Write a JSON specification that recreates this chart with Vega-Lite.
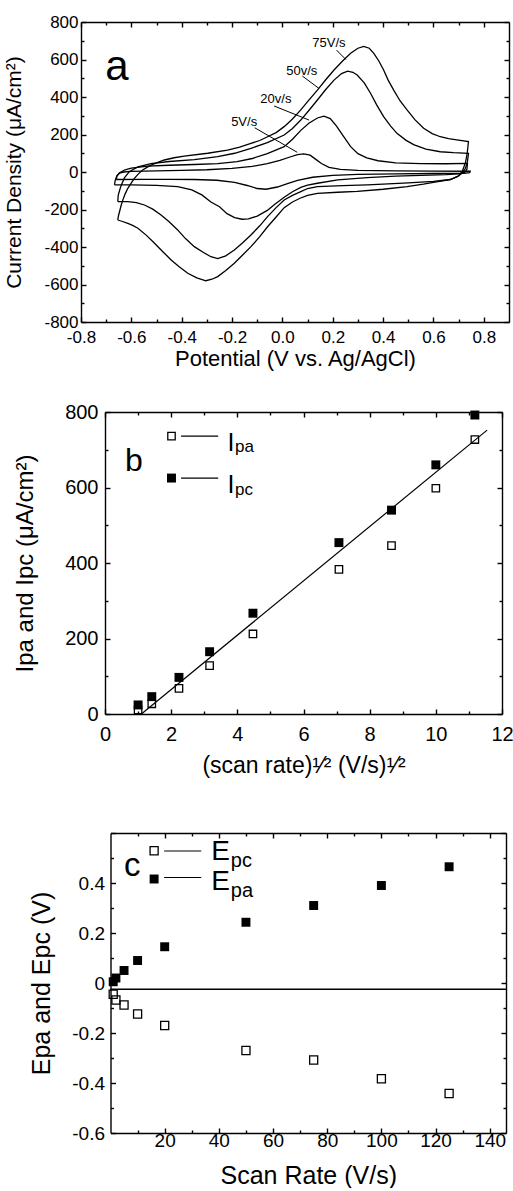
{
  "$schema": "https://vega.github.io/schema/vega-lite/v6.json",
  "padding": {"left": 3, "top": 13, "right": 0, "bottom": 0},
  "spacing": 33,
  "config": {
    "font": "Liberation Sans",
    "view": {"stroke": null},
    "axis": {"domainColor": "black", "domainWidth": 1.4, "tickColor": "black", "tickWidth": 1.4, "labelColor": "black", "titleColor": "black", "grid": false, "labelFont": "Liberation Sans", "titleFont": "Liberation Sans", "titleFontWeight": "normal", "labelOverlap": false, "labelFlush": false}
  },
  "datasets": {
    "cv": [
      {"r":"5","V":-0.660,"I":-40},{"r":"5","V":-0.657,"I":-20},{"r":"5","V":-0.648,"I":-6},{"r":"5","V":-0.630,"I":0},{"r":"5","V":-0.600,"I":3},{"r":"5","V":-0.500,"I":6},{"r":"5","V":-0.400,"I":9},{"r":"5","V":-0.300,"I":12},{"r":"5","V":-0.200,"I":19},{"r":"5","V":-0.120,"I":30},{"r":"5","V":-0.060,"I":45},{"r":"5","V":-0.010,"I":62},{"r":"5","V":0.030,"I":80},{"r":"5","V":0.060,"I":93},{"r":"5","V":0.085,"I":97},{"r":"5","V":0.110,"I":90},{"r":"5","V":0.130,"I":70},{"r":"5","V":0.155,"I":45},{"r":"5","V":0.185,"I":25},{"r":"5","V":0.230,"I":14},{"r":"5","V":0.300,"I":9},{"r":"5","V":0.450,"I":6},{"r":"5","V":0.600,"I":5},{"r":"5","V":0.746,"I":4},
      {"r":"5","V":0.744,"I":-4},{"r":"5","V":0.720,"I":-7},{"r":"5","V":0.600,"I":-8},{"r":"5","V":0.450,"I":-10},{"r":"5","V":0.300,"I":-13},{"r":"5","V":0.200,"I":-18},{"r":"5","V":0.120,"I":-28},{"r":"5","V":0.060,"I":-45},{"r":"5","V":0.020,"I":-62},{"r":"5","V":-0.020,"I":-80},{"r":"5","V":-0.065,"I":-92},{"r":"5","V":-0.100,"I":-88},{"r":"5","V":-0.140,"I":-72},{"r":"5","V":-0.190,"I":-55},{"r":"5","V":-0.260,"I":-44},{"r":"5","V":-0.350,"I":-40},{"r":"5","V":-0.450,"I":-39},{"r":"5","V":-0.550,"I":-39},{"r":"5","V":-0.660,"I":-40},

      {"r":"20","V":-0.667,"I":-69},{"r":"20","V":-0.664,"I":-45},{"r":"20","V":-0.658,"I":-22},{"r":"20","V":-0.645,"I":-3},{"r":"20","V":-0.625,"I":12},{"r":"20","V":-0.600,"I":21},{"r":"20","V":-0.535,"I":31},{"r":"20","V":-0.450,"I":36},{"r":"20","V":-0.350,"I":40},{"r":"20","V":-0.257,"I":45},{"r":"20","V":-0.180,"I":55},{"r":"20","V":-0.120,"I":72},{"r":"20","V":-0.060,"I":98},{"r":"20","V":0.007,"I":135},{"r":"20","V":0.040,"I":175},{"r":"20","V":0.073,"I":222},{"r":"20","V":0.105,"I":260},{"r":"20","V":0.139,"I":288},{"r":"20","V":0.165,"I":298},{"r":"20","V":0.190,"I":285},{"r":"20","V":0.215,"I":245},{"r":"20","V":0.240,"I":195},{"r":"20","V":0.271,"I":135},{"r":"20","V":0.300,"I":98},{"r":"20","V":0.335,"I":75},{"r":"20","V":0.380,"I":60},{"r":"20","V":0.450,"I":49},{"r":"20","V":0.550,"I":45},{"r":"20","V":0.650,"I":44},{"r":"20","V":0.735,"I":46},
      {"r":"20","V":0.733,"I":15},{"r":"20","V":0.725,"I":-2},{"r":"20","V":0.700,"I":-10},{"r":"20","V":0.650,"I":-14},{"r":"20","V":0.550,"I":-18},{"r":"20","V":0.450,"I":-22},{"r":"20","V":0.337,"I":-30},{"r":"20","V":0.220,"I":-42},{"r":"20","V":0.139,"I":-60},{"r":"20","V":0.100,"I":-70},{"r":"20","V":0.073,"I":-82},{"r":"20","V":0.040,"I":-105},{"r":"20","V":0.007,"I":-135},{"r":"20","V":-0.030,"I":-172},{"r":"20","V":-0.060,"I":-205},{"r":"20","V":-0.100,"I":-235},{"r":"20","V":-0.135,"I":-250},{"r":"20","V":-0.160,"I":-252},{"r":"20","V":-0.190,"I":-243},{"r":"20","V":-0.220,"I":-222},{"r":"20","V":-0.250,"I":-185},{"r":"20","V":-0.284,"I":-160},{"r":"20","V":-0.320,"I":-122},{"r":"20","V":-0.360,"I":-95},{"r":"20","V":-0.416,"I":-78},{"r":"20","V":-0.500,"I":-71},{"r":"20","V":-0.600,"I":-69},{"r":"20","V":-0.667,"I":-69},

      {"r":"50","V":-0.654,"I":-158},{"r":"50","V":-0.652,"I":-123},{"r":"50","V":-0.646,"I":-95},{"r":"50","V":-0.640,"I":-70},{"r":"50","V":-0.627,"I":-30},{"r":"50","V":-0.607,"I":3},{"r":"50","V":-0.574,"I":27},{"r":"50","V":-0.522,"I":45},{"r":"50","V":-0.450,"I":56},{"r":"50","V":-0.350,"I":66},{"r":"50","V":-0.257,"I":82},{"r":"50","V":-0.190,"I":100},{"r":"50","V":-0.125,"I":126},{"r":"50","V":-0.060,"I":157},{"r":"50","V":0.007,"I":197},{"r":"50","V":0.040,"I":232},{"r":"50","V":0.073,"I":277},{"r":"50","V":0.105,"I":328},{"r":"50","V":0.139,"I":384},{"r":"50","V":0.172,"I":440},{"r":"50","V":0.205,"I":490},{"r":"50","V":0.235,"I":525},{"r":"50","V":0.259,"I":538},{"r":"50","V":0.280,"I":532},{"r":"50","V":0.297,"I":517},{"r":"50","V":0.325,"I":475},{"r":"50","V":0.350,"I":420},{"r":"50","V":0.375,"I":357},{"r":"50","V":0.402,"I":295},{"r":"50","V":0.430,"I":245},{"r":"50","V":0.455,"I":206},{"r":"50","V":0.490,"I":170},{"r":"50","V":0.521,"I":146},{"r":"50","V":0.570,"I":122},{"r":"50","V":0.627,"I":108},{"r":"50","V":0.680,"I":103},{"r":"50","V":0.739,"I":100},
      {"r":"50","V":0.735,"I":55},{"r":"50","V":0.727,"I":20},{"r":"50","V":0.715,"I":-5},{"r":"50","V":0.695,"I":-25},{"r":"50","V":0.667,"I":-40},{"r":"50","V":0.600,"I":-50},{"r":"50","V":0.500,"I":-58},{"r":"50","V":0.400,"I":-65},{"r":"50","V":0.337,"I":-69},{"r":"50","V":0.240,"I":-73},{"r":"50","V":0.139,"I":-78},{"r":"50","V":0.100,"I":-88},{"r":"50","V":0.073,"I":-105},{"r":"50","V":0.040,"I":-125},{"r":"50","V":0.007,"I":-149},{"r":"50","V":-0.025,"I":-190},{"r":"50","V":-0.059,"I":-238},{"r":"50","V":-0.090,"I":-287},{"r":"50","V":-0.125,"I":-336},{"r":"50","V":-0.160,"I":-380},{"r":"50","V":-0.191,"I":-416},{"r":"50","V":-0.225,"I":-447},{"r":"50","V":-0.257,"I":-462},{"r":"50","V":-0.284,"I":-452},{"r":"50","V":-0.315,"I":-428},{"r":"50","V":-0.350,"I":-398},{"r":"50","V":-0.385,"I":-355},{"r":"50","V":-0.416,"I":-309},{"r":"50","V":-0.450,"I":-265},{"r":"50","V":-0.482,"I":-229},{"r":"50","V":-0.515,"I":-198},{"r":"50","V":-0.548,"I":-176},{"r":"50","V":-0.580,"I":-163},{"r":"50","V":-0.614,"I":-158},{"r":"50","V":-0.654,"I":-158},

      {"r":"75","V":-0.654,"I":-256},{"r":"75","V":-0.651,"I":-232},{"r":"75","V":-0.647,"I":-212},{"r":"75","V":-0.641,"I":-180},{"r":"75","V":-0.634,"I":-150},{"r":"75","V":-0.625,"I":-118},{"r":"75","V":-0.614,"I":-87},{"r":"75","V":-0.600,"I":-58},{"r":"75","V":-0.588,"I":-34},{"r":"75","V":-0.572,"I":-10},{"r":"75","V":-0.555,"I":11},{"r":"75","V":-0.535,"I":27},{"r":"75","V":-0.515,"I":41},{"r":"75","V":-0.490,"I":54},{"r":"75","V":-0.469,"I":64},{"r":"75","V":-0.430,"I":76},{"r":"75","V":-0.390,"I":85},{"r":"75","V":-0.297,"I":100},{"r":"75","V":-0.218,"I":117},{"r":"75","V":-0.170,"I":133},{"r":"75","V":-0.125,"I":153},{"r":"75","V":-0.090,"I":168},{"r":"75","V":-0.059,"I":188},{"r":"75","V":-0.025,"I":210},{"r":"75","V":0.007,"I":242},{"r":"75","V":0.040,"I":283},{"r":"75","V":0.073,"I":331},{"r":"75","V":0.105,"I":383},{"r":"75","V":0.139,"I":437},{"r":"75","V":0.172,"I":492},{"r":"75","V":0.205,"I":544},{"r":"75","V":0.240,"I":593},{"r":"75","V":0.271,"I":633},{"r":"75","V":0.300,"I":660},{"r":"75","V":0.323,"I":670},{"r":"75","V":0.345,"I":660},{"r":"75","V":0.363,"I":633},{"r":"75","V":0.383,"I":592},{"r":"75","V":0.402,"I":544},{"r":"75","V":0.420,"I":490},{"r":"75","V":0.442,"I":437},{"r":"75","V":0.467,"I":380},{"r":"75","V":0.495,"I":331},{"r":"75","V":0.527,"I":278},{"r":"75","V":0.561,"I":233},{"r":"75","V":0.595,"I":205},{"r":"75","V":0.627,"I":188},{"r":"75","V":0.660,"I":178},{"r":"75","V":0.693,"I":171},{"r":"75","V":0.739,"I":162},
      {"r":"75","V":0.734,"I":100},{"r":"75","V":0.727,"I":50},{"r":"75","V":0.715,"I":5},{"r":"75","V":0.700,"I":-20},{"r":"75","V":0.680,"I":-33},{"r":"75","V":0.667,"I":-40},{"r":"75","V":0.600,"I":-55},{"r":"75","V":0.560,"I":-65},{"r":"75","V":0.495,"I":-78},{"r":"75","V":0.400,"I":-92},{"r":"75","V":0.297,"I":-103},{"r":"75","V":0.220,"I":-108},{"r":"75","V":0.139,"I":-114},{"r":"75","V":0.100,"I":-125},{"r":"75","V":0.070,"I":-140},{"r":"75","V":0.040,"I":-160},{"r":"75","V":0.007,"I":-190},{"r":"75","V":-0.025,"I":-240},{"r":"75","V":-0.059,"I":-292},{"r":"75","V":-0.090,"I":-345},{"r":"75","V":-0.125,"I":-398},{"r":"75","V":-0.160,"I":-445},{"r":"75","V":-0.191,"I":-487},{"r":"75","V":-0.225,"I":-525},{"r":"75","V":-0.257,"I":-558},{"r":"75","V":-0.280,"I":-572},{"r":"75","V":-0.304,"I":-580},{"r":"75","V":-0.340,"I":-565},{"r":"75","V":-0.376,"I":-540},{"r":"75","V":-0.410,"I":-505},{"r":"75","V":-0.442,"I":-469},{"r":"75","V":-0.475,"I":-425},{"r":"75","V":-0.508,"I":-380},{"r":"75","V":-0.540,"I":-338},{"r":"75","V":-0.574,"I":-300},{"r":"75","V":-0.595,"I":-285},{"r":"75","V":-0.614,"I":-274},{"r":"75","V":-0.635,"I":-264},{"r":"75","V":-0.654,"I":-256}
    ],
    "peaks": [
      {"root":1,"Ipa":11,"Ipc":24},{"root":1.414,"Ipa":27,"Ipc":46},{"root":2.236,"Ipa":68,"Ipc":97},{"root":3.162,"Ipa":128,"Ipc":165},{"root":4.472,"Ipa":212,"Ipc":267},{"root":7.071,"Ipa":383,"Ipc":454},{"root":8.66,"Ipa":446,"Ipc":540},{"root":10,"Ipa":598,"Ipc":660},{"root":11.18,"Ipa":727,"Ipc":792}
    ],
    "pots": [
      {"rate":1,"Epa":0.005,"Epc":-0.045},{"rate":2,"Epa":0.02,"Epc":-0.068},{"rate":5,"Epa":0.05,"Epc":-0.088},{"rate":10,"Epa":0.09,"Epc":-0.124},{"rate":20,"Epa":0.145,"Epc":-0.17},{"rate":50,"Epa":0.243,"Epc":-0.27},{"rate":75,"Epa":0.31,"Epc":-0.308},{"rate":100,"Epa":0.39,"Epc":-0.383},{"rate":125,"Epa":0.465,"Epc":-0.442}
    ],
    "one": [{}]
  },
  "vconcat": [
    {
      "width": 428, "height": 300,
      "data": {"name": "cv"},
      "resolve": {"axis": {"x": "independent", "y": "independent"}},
      "layer": [
        {
          "mark": {"type": "line", "color": "black", "strokeWidth": 1.3},
          "encoding": {
            "x": {"field": "V", "type": "quantitative", "scale": {"domain": [-0.8, 0.9], "nice": false, "zero": false},
              "axis": {"orient": "bottom", "values": [-0.8,-0.6,-0.4,-0.2,0,0.2,0.4,0.6,0.8],
                "labelExpr": "(datum.value < -0.001 ? '-' : '') + format(abs(datum.value), '.1f')",
                "ticks": false, "labelPadding": 7, "labelFontSize": 17, "title": "Potential (V vs. Ag/AgCl)", "titleFontSize": 22, "titlePadding": 3}},
            "y": {"field": "I", "type": "quantitative", "scale": {"domain": [-800, 800], "nice": false, "zero": false},
              "axis": {"orient": "left", "values": [-800,-600,-400,-200,0,200,400,600,800],
                "labelExpr": "(datum.value<0 ? '-' : '') + abs(datum.value)",
                "ticks": false, "labelPadding": 3, "labelFontSize": 17, "title": "Current Density (μA/cm²)", "titleFontSize": 21, "titlePadding": 19}},
            "detail": {"field": "r"},
            "order": {"value": null}
          }
        },
        {
          "mark": {"type": "point", "opacity": 0},
          "encoding": {
            "x": {"field": "V", "type": "quantitative", "axis": {"orient": "bottom", "offset": -5, "values": [-0.8,-0.6,-0.4,-0.2,0,0.2,0.4,0.6,0.8], "labels": false, "title": null, "domain": false, "tickSize": 5}},
            "y": {"field": "I", "type": "quantitative", "axis": {"orient": "left", "offset": -5, "values": [-800,-600,-400,-200,0,200,400,600,800], "labels": false, "title": null, "domain": false, "tickSize": 5}}
          }
        },
        {
          "mark": {"type": "point", "opacity": 0},
          "encoding": {
            "x": {"field": "V", "type": "quantitative", "axis": {"orient": "bottom", "offset": -3, "values": [-0.7,-0.5,-0.3,-0.1,0.1,0.3,0.5,0.7], "labels": false, "title": null, "domain": false, "tickSize": 3}},
            "y": {"field": "I", "type": "quantitative", "axis": {"orient": "left", "offset": -3, "values": [-700,-500,-300,-100,100,300,500,700], "labels": false, "title": null, "domain": false, "tickSize": 3}}
          }
        },
        {
          "mark": {"type": "point", "opacity": 0},
          "encoding": {
            "x": {"field": "V", "type": "quantitative", "axis": {"orient": "top", "values": [0], "labels": false, "title": null, "ticks": false}},
            "y": {"field": "I", "type": "quantitative", "axis": {"orient": "right", "values": [0], "labels": false, "title": null, "ticks": false}}
          }
        },
        {
          "mark": {"type": "point", "opacity": 0},
          "encoding": {
            "x": {"field": "V", "type": "quantitative", "axis": {"orient": "top", "offset": -5, "values": [-0.8,-0.6,-0.4,-0.2,0,0.2,0.4,0.6,0.8], "labels": false, "title": null, "domain": false, "tickSize": 5}},
            "y": {"field": "I", "type": "quantitative", "axis": {"orient": "right", "offset": -5, "values": [-800,-600,-400,-200,0,200,400,600,800], "labels": false, "title": null, "domain": false, "tickSize": 5}}
          }
        },
        {
          "mark": {"type": "point", "opacity": 0},
          "encoding": {
            "x": {"field": "V", "type": "quantitative", "axis": {"orient": "top", "offset": -3, "values": [-0.7,-0.5,-0.3,-0.1,0.1,0.3,0.5,0.7], "labels": false, "title": null, "domain": false, "tickSize": 3}},
            "y": {"field": "I", "type": "quantitative", "axis": {"orient": "right", "offset": -3, "values": [-700,-500,-300,-100,100,300,500,700], "labels": false, "title": null, "domain": false, "tickSize": 3}}
          }
        },
        {"data": {"name": "one"}, "mark": {"type": "rule", "color": "black", "strokeWidth": 1}, "encoding": {"x": {"datum": 0.215, "axis": null}, "y": {"datum": 650, "axis": null}, "x2": {"datum": 0.252}, "y2": {"datum": 600}}},
        {"data": {"name": "one"}, "mark": {"type": "rule", "color": "black", "strokeWidth": 1}, "encoding": {"x": {"datum": 0.079, "axis": null}, "y": {"datum": 512, "axis": null}, "x2": {"datum": 0.145}, "y2": {"datum": 446}}},
        {"data": {"name": "one"}, "mark": {"type": "rule", "color": "black", "strokeWidth": 1}, "encoding": {"x": {"datum": -0.033, "axis": null}, "y": {"datum": 352, "axis": null}, "x2": {"datum": 0.106}, "y2": {"datum": 277}}},
        {"data": {"name": "one"}, "mark": {"type": "rule", "color": "black", "strokeWidth": 1}, "encoding": {"x": {"datum": -0.11, "axis": null}, "y": {"datum": 236, "axis": null}, "x2": {"datum": 0.059}, "y2": {"datum": 105}}},
        {"data": {"name": "one"}, "mark": {"type": "text", "fontSize": 13, "font": "Liberation Sans", "align": "center", "baseline": "middle"}, "encoding": {"x": {"datum": 0.185, "axis": null}, "y": {"datum": 688, "axis": null}, "text": {"value": "75V/s"}}},
        {"data": {"name": "one"}, "mark": {"type": "text", "fontSize": 13, "font": "Liberation Sans", "align": "center", "baseline": "middle"}, "encoding": {"x": {"datum": 0.077, "axis": null}, "y": {"datum": 541, "axis": null}, "text": {"value": "50v/s"}}},
        {"data": {"name": "one"}, "mark": {"type": "text", "fontSize": 13, "font": "Liberation Sans", "align": "center", "baseline": "middle"}, "encoding": {"x": {"datum": -0.026, "axis": null}, "y": {"datum": 392, "axis": null}, "text": {"value": "20v/s"}}},
        {"data": {"name": "one"}, "mark": {"type": "text", "fontSize": 13, "font": "Liberation Sans", "align": "center", "baseline": "middle"}, "encoding": {"x": {"datum": -0.152, "axis": null}, "y": {"datum": 265, "axis": null}, "text": {"value": "5V/s"}}},
        {"data": {"name": "one"}, "mark": {"type": "text", "fontSize": 42, "font": "Liberation Sans", "align": "center", "baseline": "alphabetic"}, "encoding": {"x": {"datum": -0.657, "axis": null}, "y": {"datum": 491, "axis": null}, "text": {"value": "a"}}}
      ]
    },
    {
      "width": 421, "height": 302,
      "data": {"name": "peaks"},
      "resolve": {"axis": {"x": "independent", "y": "independent"}},
      "layer": [
        {
          "mark": {"type": "point", "shape": "square", "filled": false, "stroke": "black", "strokeWidth": 1.3, "size": 55, "opacity": 1},
          "encoding": {
            "x": {"field": "root", "type": "quantitative", "scale": {"domain": [0, 12], "range": [24, 421], "nice": false, "zero": false},
              "axis": {"orient": "bottom", "values": [0,2,4,6,8,10,12],
                "ticks": false, "labelPadding": 10, "labelFontSize": 20, "title": "(scan rate)¹⁄² (V/s)¹⁄²", "titleFontSize": 23, "titlePadding": 10}},
            "y": {"field": "Ipa", "type": "quantitative", "scale": {"domain": [0, 800], "nice": false, "zero": false},
              "axis": {"orient": "left", "offset": -24, "values": [0,200,400,600,800],
                "ticks": false, "labelPadding": 7, "labelFontSize": 20, "title": "Ipa and Ipc (μA/cm²)", "titleFontSize": 24, "titlePadding": 27}}
          }
        },
        {
          "mark": {"type": "point", "opacity": 0},
          "encoding": {
            "x": {"field": "root", "type": "quantitative", "axis": {"orient": "bottom", "offset": -5, "values": [0,2,4,6,8,10,12], "labels": false, "title": null, "domain": false, "tickSize": 5}},
            "y": {"field": "Ipa", "type": "quantitative", "axis": {"orient": "left", "offset": -29, "values": [0,200,400,600,800], "labels": false, "title": null, "domain": false, "tickSize": 5}}
          }
        },
        {
          "mark": {"type": "point", "opacity": 0},
          "encoding": {
            "x": {"field": "root", "type": "quantitative", "axis": {"orient": "bottom", "offset": -3, "values": [1,3,5,7,9,11], "labels": false, "title": null, "domain": false, "tickSize": 3}},
            "y": {"field": "Ipa", "type": "quantitative", "axis": {"orient": "left", "offset": -27, "values": [100,300,500,700], "labels": false, "title": null, "domain": false, "tickSize": 3}}
          }
        },
        {
          "mark": {"type": "point", "opacity": 0},
          "encoding": {
            "x": {"field": "root", "type": "quantitative", "axis": {"orient": "top", "values": [0], "labels": false, "title": null, "ticks": false}},
            "y": {"field": "Ipa", "type": "quantitative", "axis": {"orient": "right", "values": [0], "labels": false, "title": null, "ticks": false}}
          }
        },
        {
          "mark": {"type": "point", "opacity": 0},
          "encoding": {
            "x": {"field": "root", "type": "quantitative", "axis": {"orient": "top", "offset": -5, "values": [0,2,4,6,8,10,12], "labels": false, "title": null, "domain": false, "tickSize": 5}},
            "y": {"field": "Ipa", "type": "quantitative", "axis": {"orient": "right", "offset": -5, "values": [0,200,400,600,800], "labels": false, "title": null, "domain": false, "tickSize": 5}}
          }
        },
        {
          "mark": {"type": "point", "opacity": 0},
          "encoding": {
            "x": {"field": "root", "type": "quantitative", "axis": {"orient": "top", "offset": -3, "values": [1,3,5,7,9,11], "labels": false, "title": null, "domain": false, "tickSize": 3}},
            "y": {"field": "Ipa", "type": "quantitative", "axis": {"orient": "right", "offset": -3, "values": [100,300,500,700], "labels": false, "title": null, "domain": false, "tickSize": 3}}
          }
        },
        {
          "mark": {"type": "point", "shape": "square", "filled": true, "color": "black", "size": 80, "opacity": 1},
          "encoding": {"x": {"field": "root", "type": "quantitative", "axis": null}, "y": {"field": "Ipc", "type": "quantitative", "axis": null}}
        },
        {"data": {"name": "one"}, "mark": {"type": "rule", "color": "black", "strokeWidth": 1.2}, "encoding": {"x": {"datum": 1.1, "axis": null}, "y": {"datum": 0, "axis": null}, "x2": {"datum": 11.55}, "y2": {"datum": 752}}},
        {"data": {"name": "one"}, "mark": {"type": "point", "shape": "square", "filled": false, "stroke": "black", "strokeWidth": 1.3, "size": 55, "opacity": 1}, "encoding": {"x": {"datum": 2.01, "axis": null}, "y": {"datum": 736, "axis": null}}},
        {"data": {"name": "one"}, "mark": {"type": "point", "shape": "square", "filled": true, "color": "black", "size": 80, "opacity": 1}, "encoding": {"x": {"datum": 2.01, "axis": null}, "y": {"datum": 625, "axis": null}}},
        {"data": {"name": "one"}, "mark": {"type": "rule", "color": "black", "strokeWidth": 1.2}, "encoding": {"x": {"datum": 2.3, "axis": null}, "x2": {"datum": 3.42}, "y": {"datum": 736, "axis": null}}},
        {"data": {"name": "one"}, "mark": {"type": "rule", "color": "black", "strokeWidth": 1.2}, "encoding": {"x": {"datum": 2.3, "axis": null}, "x2": {"datum": 3.42}, "y": {"datum": 625, "axis": null}}},
        {"data": {"name": "one"}, "mark": {"type": "text", "fontSize": 25, "font": "Liberation Sans", "align": "left", "baseline": "alphabetic"}, "encoding": {"x": {"datum": 3.7, "axis": null}, "y": {"datum": 698, "axis": null}, "text": {"value": "I"}}},
        {"data": {"name": "one"}, "mark": {"type": "text", "fontSize": 17, "font": "Liberation Sans", "align": "left", "baseline": "alphabetic"}, "encoding": {"x": {"datum": 3.93, "axis": null}, "y": {"datum": 694, "axis": null}, "text": {"value": "pa"}}},
        {"data": {"name": "one"}, "mark": {"type": "text", "fontSize": 25, "font": "Liberation Sans", "align": "left", "baseline": "alphabetic"}, "encoding": {"x": {"datum": 3.7, "axis": null}, "y": {"datum": 585, "axis": null}, "text": {"value": "I"}}},
        {"data": {"name": "one"}, "mark": {"type": "text", "fontSize": 17, "font": "Liberation Sans", "align": "left", "baseline": "alphabetic"}, "encoding": {"x": {"datum": 3.93, "axis": null}, "y": {"datum": 581, "axis": null}, "text": {"value": "pc"}}},
        {"data": {"name": "one"}, "mark": {"type": "text", "fontSize": 32, "font": "Liberation Sans", "align": "center", "baseline": "alphabetic"}, "encoding": {"x": {"datum": 0.87, "axis": null}, "y": {"datum": 644, "axis": null}, "text": {"value": "b"}}}
      ]
    },
    {
      "width": 425, "height": 300,
      "title": {"text": " ", "fontSize": 4, "offset": 10},
      "data": {"name": "pots"},
      "resolve": {"axis": {"x": "independent", "y": "independent"}},
      "layer": [
        {
          "mark": {"type": "point", "shape": "square", "filled": false, "stroke": "black", "strokeWidth": 1.3, "size": 65, "opacity": 1},
          "encoding": {
            "x": {"field": "rate", "type": "quantitative", "scale": {"domain": [0, 146], "range": [29.5, 425], "nice": false, "zero": false},
              "axis": {"orient": "bottom", "values": [20,40,60,80,100,120,140],
                "ticks": false, "labelPadding": -2, "labelFontSize": 19, "title": "Scan Rate (V/s)", "titleFontSize": 25, "titlePadding": 13}},
            "y": {"field": "Epc", "type": "quantitative", "scale": {"domain": [-0.6, 0.6], "nice": false, "zero": false},
              "axis": {"orient": "left", "offset": -29.5, "values": [-0.6,-0.4,-0.2,0,0.2,0.4,0.6],
                "labelExpr": "datum.value>0.5 ? '' : (abs(datum.value)<0.001 ? '0' : (datum.value<0 ? '-' : '') + format(abs(datum.value), '.1f'))",
                "ticks": false, "labelPadding": 6, "labelFontSize": 19, "title": "Epa and Epc (V)", "titleFontSize": 25, "titlePadding": 17}}
          }
        },
        {
          "mark": {"type": "point", "opacity": 0},
          "encoding": {
            "x": {"field": "rate", "type": "quantitative", "axis": {"orient": "bottom", "offset": -5, "values": [20,40,60,80,100,120,140], "labels": false, "title": null, "domain": false, "tickSize": 5}},
            "y": {"field": "Epc", "type": "quantitative", "axis": {"orient": "left", "offset": -34.5, "values": [-0.6,-0.4,-0.2,0,0.2,0.4,0.6], "labels": false, "title": null, "domain": false, "tickSize": 5}}
          }
        },
        {
          "mark": {"type": "point", "opacity": 0},
          "encoding": {
            "x": {"field": "rate", "type": "quantitative", "axis": {"orient": "bottom", "offset": -3, "values": [10,30,50,70,90,110,130], "labels": false, "title": null, "domain": false, "tickSize": 3}},
            "y": {"field": "Epc", "type": "quantitative", "axis": {"orient": "left", "offset": -32.5, "values": [-0.5,-0.3,-0.1,0.1,0.3,0.5], "labels": false, "title": null, "domain": false, "tickSize": 3}}
          }
        },
        {
          "mark": {"type": "point", "opacity": 0},
          "encoding": {
            "x": {"field": "rate", "type": "quantitative", "axis": {"orient": "top", "values": [50], "labels": false, "title": null, "ticks": false}},
            "y": {"field": "Epc", "type": "quantitative", "axis": {"orient": "right", "values": [0], "labels": false, "title": null, "ticks": false}}
          }
        },
        {
          "mark": {"type": "point", "opacity": 0},
          "encoding": {
            "x": {"field": "rate", "type": "quantitative", "axis": {"orient": "top", "offset": -5, "values": [20,40,60,80,100,120,140], "labels": false, "title": null, "domain": false, "tickSize": 5}},
            "y": {"field": "Epc", "type": "quantitative", "axis": {"orient": "right", "offset": -5, "values": [-0.6,-0.4,-0.2,0,0.2,0.4,0.6], "labels": false, "title": null, "domain": false, "tickSize": 5}}
          }
        },
        {
          "mark": {"type": "point", "opacity": 0},
          "encoding": {
            "x": {"field": "rate", "type": "quantitative", "axis": {"orient": "top", "offset": -3, "values": [10,30,50,70,90,110,130], "labels": false, "title": null, "domain": false, "tickSize": 3}},
            "y": {"field": "Epc", "type": "quantitative", "axis": {"orient": "right", "offset": -3, "values": [-0.5,-0.3,-0.1,0.1,0.3,0.5], "labels": false, "title": null, "domain": false, "tickSize": 3}}
          }
        },
        {
          "mark": {"type": "point", "shape": "square", "filled": true, "color": "black", "size": 80, "opacity": 1},
          "encoding": {"x": {"field": "rate", "type": "quantitative", "axis": null}, "y": {"field": "Epa", "type": "quantitative", "axis": null}}
        },
        {"data": {"name": "one"}, "mark": {"type": "rule", "color": "black", "strokeWidth": 1.5}, "encoding": {"x": {"datum": 0, "axis": null}, "x2": {"datum": 146}, "y": {"datum": -0.025, "axis": null}}},
        {"data": {"name": "one"}, "mark": {"type": "point", "shape": "square", "filled": false, "stroke": "black", "strokeWidth": 1.3, "size": 65, "opacity": 1}, "encoding": {"x": {"datum": 16.1, "axis": null}, "y": {"datum": 0.529, "axis": null}}},
        {"data": {"name": "one"}, "mark": {"type": "point", "shape": "square", "filled": true, "color": "black", "size": 80, "opacity": 1}, "encoding": {"x": {"datum": 16.1, "axis": null}, "y": {"datum": 0.416, "axis": null}}},
        {"data": {"name": "one"}, "mark": {"type": "rule", "color": "black", "strokeWidth": 1.2}, "encoding": {"x": {"datum": 19.8, "axis": null}, "x2": {"datum": 33.5}, "y": {"datum": 0.528, "axis": null}}},
        {"data": {"name": "one"}, "mark": {"type": "rule", "color": "black", "strokeWidth": 1.2}, "encoding": {"x": {"datum": 19.8, "axis": null}, "x2": {"datum": 33.5}, "y": {"datum": 0.422, "axis": null}}},
        {"data": {"name": "one"}, "mark": {"type": "text", "fontSize": 28, "font": "Liberation Sans", "align": "left", "baseline": "alphabetic"}, "encoding": {"x": {"datum": 37.2, "axis": null}, "y": {"datum": 0.493, "axis": null}, "text": {"value": "E"}}},
        {"data": {"name": "one"}, "mark": {"type": "text", "fontSize": 20, "font": "Liberation Sans", "align": "left", "baseline": "alphabetic"}, "encoding": {"x": {"datum": 44.4, "axis": null}, "y": {"datum": 0.464, "axis": null}, "text": {"value": "pc"}}},
        {"data": {"name": "one"}, "mark": {"type": "text", "fontSize": 28, "font": "Liberation Sans", "align": "left", "baseline": "alphabetic"}, "encoding": {"x": {"datum": 37.2, "axis": null}, "y": {"datum": 0.373, "axis": null}, "text": {"value": "E"}}},
        {"data": {"name": "one"}, "mark": {"type": "text", "fontSize": 20, "font": "Liberation Sans", "align": "left", "baseline": "alphabetic"}, "encoding": {"x": {"datum": 44.4, "axis": null}, "y": {"datum": 0.343, "axis": null}, "text": {"value": "pa"}}},
        {"data": {"name": "one"}, "mark": {"type": "text", "fontSize": 33, "font": "Liberation Sans", "align": "center", "baseline": "alphabetic"}, "encoding": {"x": {"datum": 8.06, "axis": null}, "y": {"datum": 0.428, "axis": null}, "text": {"value": "c"}}}
      ]
    }
  ]
}
